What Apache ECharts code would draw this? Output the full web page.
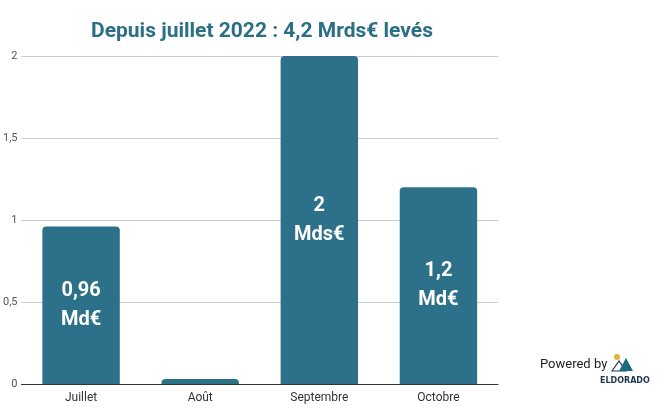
<!DOCTYPE html>
<html><head><meta charset="utf-8">
<script src="https://cdn.jsdelivr.net/npm/echarts@6/dist/echarts.min.js"></script>
<style>html,body{margin:0;background:#fff}#c{width:672px;height:420px}</style>
</head><body><div id="c"></div>
<script>
const months = ["Juillet", "Août", "Septembre", "Octobre"];
const values = [0.96, 0.03, 2, 1.2];
const labels = ["0,96\nMd€", "", "2\nMds€", "1,2\nMd€"];
const BAR = "#2c7189";

const chart = echarts.init(document.getElementById("c"));
chart.setOption({
  backgroundColor: "#fff", animation: false,
  title: {
    text: "Depuis juillet 2022 : 4,2 Mrds€ levés", left: 257, top: 16, textAlign: "center",
    textStyle: { color: "#2b6f87", fontSize: 21, fontWeight: "bold", fontFamily: "Roboto" },
  },
  grid: { left: 18, right: 174, top: 56, bottom: 36 },
  xAxis: {
    type: "category", data: months,
    axisLine: { lineStyle: { color: "#333" } }, axisTick: { show: false },
    axisLabel: { color: "#333", fontSize: 12, fontFamily: "Roboto", margin: 8 },
  },
  yAxis: {
    type: "value", min: 0, max: 2, interval: 0.5,
    axisLabel: { color: "#555", fontSize: 11, fontFamily: "Roboto", margin: 4,
      formatter: v => String(v).replace(".", ",") },
    splitLine: { lineStyle: { color: "#ccc" } },
  },
  series: [{
    type: "bar", data: values, barWidth: "65%",
    itemStyle: { color: BAR, borderRadius: [4, 4, 0, 0] },
    label: {
      show: true, position: "inside", color: "#fff", fontSize: 20, fontWeight: "bold",
      fontFamily: "Roboto", lineHeight: 29,
      formatter: p => labels[p.dataIndex],
    },
  }],
  graphic: [
    { type: "text", left: 540, top: 358, style: { text: "Powered by", fill: "#222", fontSize: 13, fontFamily: "Roboto" } },
    { type: "circle", shape: { cx: 617, cy: 357, r: 3 }, style: { fill: "#e8b23a" } },
    { type: "polygon", shape: { points: [[612, 371], [619, 361], [626, 371]] }, style: { fill: "#fff", stroke: "#1e3550", lineWidth: 1.2 } },
    { type: "polygon", shape: { points: [[619, 371], [626, 358], [633, 371]] }, style: { fill: "#1a6b80" } },
    { type: "text", left: 600, top: 377, style: { text: "ELDORADO", fill: "#1e3550", fontSize: 8, fontWeight: "bold", fontFamily: "DejaVu Sans" } },
  ],
});
</script></body></html>
